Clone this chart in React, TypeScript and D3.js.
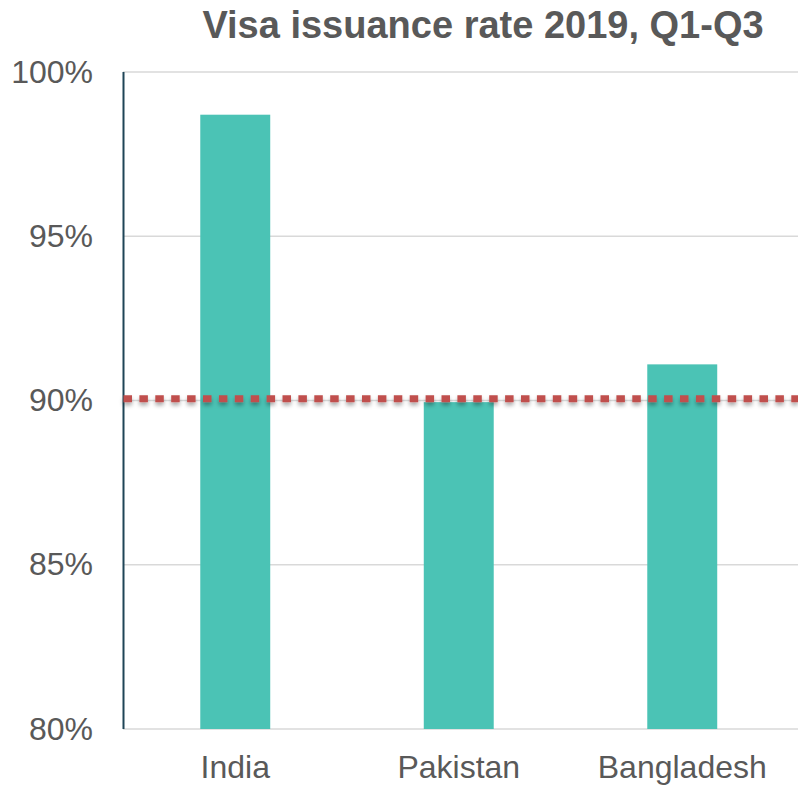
import React from "react";
import * as d3 from "d3";

const categories = ["India", "Pakistan", "Bangladesh"];
const rates = [98.7, 89.95, 91.1];
const targetRate = [90.05];
const yTicks = [80, 85, 90, 95, 100];
const titleText = "Visa issuance rate 2019, Q1-Q3";

const W = 798;
const H = 787;

export default function App() {
  const x = d3
    .scaleBand<string>()
    .domain(categories)
    .range([123.5, 794])
    .paddingInner(0.687)
    .paddingOuter(0.3435);
  const y = d3.scaleLinear().domain([80, 100]).range([729, 72]);
  const font = "Arial, 'Liberation Sans', Helvetica, sans-serif";
  const grey = "#595959";

  return (
    <svg
      width={W}
      height={H}
      style={{ position: "absolute", left: 0, top: 0, background: "#fff" }}
    >
      <defs>
        <filter id="sh" filterUnits="userSpaceOnUse" x="0" y="370" width={W} height="60">
          <feDropShadow dx="0" dy="3" stdDeviation="2.2" floodColor="#000" floodOpacity="0.35" />
        </filter>
      </defs>
      <text
        x={483}
        y={38}
        textAnchor="middle"
        fontFamily={font}
        fontWeight="bold"
        fontSize={38}
        fill={grey}
      >
        {titleText}
      </text>
      {yTicks.map((t) => (
        <g key={t}>
          <line x1={123} x2={W} y1={y(t)} y2={y(t)} stroke="#d9d9d9" strokeWidth={1.5} />
          <text
            x={93}
            y={y(t) + 10.5}
            textAnchor="end"
            fontFamily={font}
            fontSize={32}
            fill={grey}
          >
            {t}%
          </text>
        </g>
      ))}
      {categories.map((c, i) => (
        <rect
          key={c}
          x={x(c)}
          y={y(rates[i])}
          width={x.bandwidth()}
          height={y(80) - y(rates[i])}
          fill="#4bc3b5"
        />
      ))}
      <line x1={123.5} x2={123.5} y1={72} y2={729} stroke="#1f4557" strokeWidth={2} />
      {categories.map((c) => (
        <text
          key={c}
          x={(x(c) as number) + x.bandwidth() / 2}
          y={778}
          textAnchor="middle"
          fontFamily={font}
          fontSize={32}
          fill={grey}
        >
          {c}
        </text>
      ))}
      {targetRate.map((t, i) => (
        <line
          key={i}
          x1={123.5}
          x2={W}
          y1={y(t)}
          y2={y(t)}
          stroke="#c0504d"
          strokeWidth={7}
          strokeDasharray="8.5 7.4"
          filter="url(#sh)"
        />
      ))}
    </svg>
  );
}
